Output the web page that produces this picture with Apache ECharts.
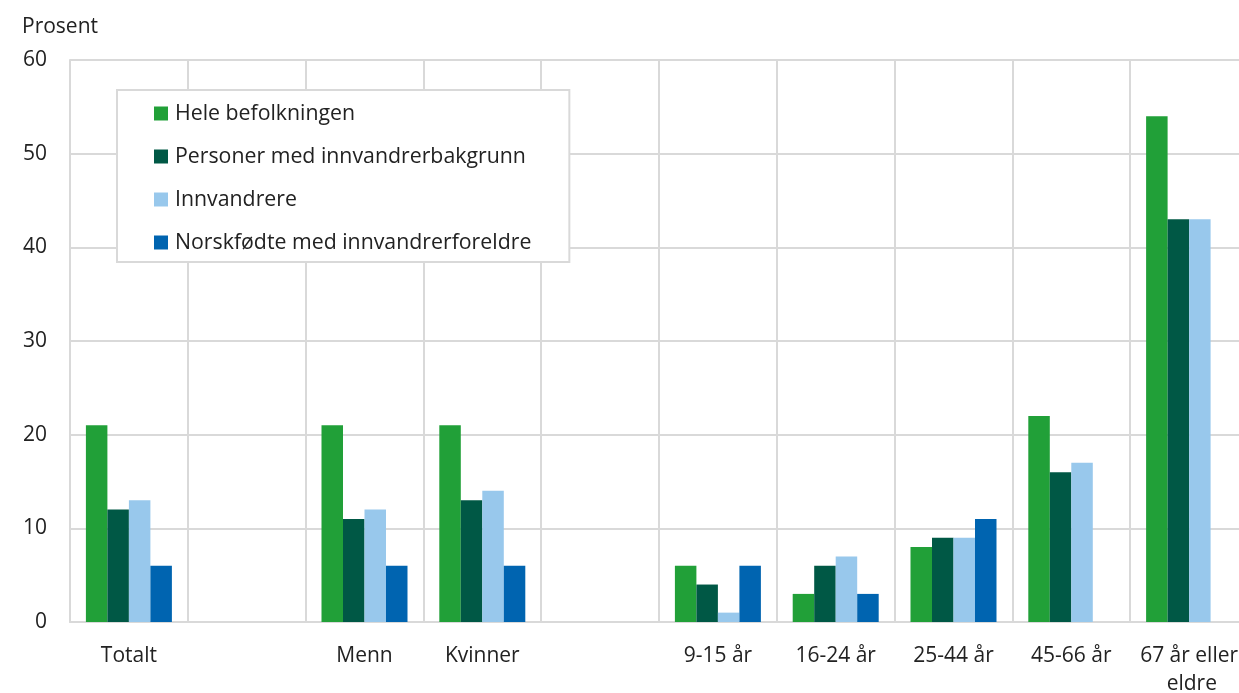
<!DOCTYPE html>
<html>
<head>
<meta charset="utf-8">
<script src="https://cdn.jsdelivr.net/npm/echarts@6/dist/echarts.min.js"></script>
<style>
html,body{margin:0;padding:0;background:#fff;}
#chart{width:1239px;height:693px;}
</style>
</head>
<body>
<div id="chart"></div>
<script>
const categories = ["Totalt", "", "Menn", "Kvinner", "", "9-15 år", "16-24 år", "25-44 år", "45-66 år", "67 år eller eldre"];
const seriesNames = ["Hele befolkningen", "Personer med innvandrerbakgrunn", "Innvandrere", "Norskfødte med innvandrerforeldre"];
const heleBefolkningen = [21, null, 21, 21, null, 6, 3, 8, 22, 54];
const innvandrerbakgrunn = [12, null, 11, 13, null, 4, 6, 9, 16, 43];
const innvandrere = [13, null, 12, 14, null, 1, 7, 9, 17, 43];
const norskfodte = [6, null, 6, 6, null, 6, 3, 11, null, null];
const yTicks = [0, 10, 20, 30, 40, 50, 60];

const colors = ["#21a038", "#005845", "#98c8ec", "#0064b0"];
const font = "'Open Sans', 'Noto Sans', sans-serif";
const dataSets = [heleBefolkningen, innvandrerbakgrunn, innvandrere, norskfodte];

const chart = echarts.init(document.getElementById('chart'), null, {renderer: 'canvas'});
chart.setOption({
  animation: false,
  textStyle: {fontFamily: font},
  title: {
    text: "Prosent",
    left: 17, top: 12,
    textStyle: {fontFamily: font, fontSize: 21, fontWeight: 'normal', color: '#222'}
  },
  legend: {
    orient: 'vertical',
    left: 117, top: 90,
    backgroundColor: '#fff',
    borderColor: '#d9d9d9',
    borderWidth: 2,
    padding: [13, 38, 9, 37],
    itemWidth: 14, itemHeight: 14,
    itemGap: 22,
    icon: 'rect',
    textStyle: {fontFamily: font, fontSize: 21.3, color: '#222', padding: [0, 0, 0, 2]},
    data: seriesNames
  },
  grid: {left: 70, top: 60, width: 1178, height: 562, containLabel: false, outerBoundsMode: 'none'},
  xAxis: {
    type: 'category',
    data: categories,
    axisLine: {show: true, lineStyle: {color: '#d9d9d9', width: 2}},
    axisTick: {show: false},
    splitLine: {show: true, interval: 0, lineStyle: {color: '#d9d9d9', width: 2}},
    axisLabel: {
      interval: 0, fontFamily: font, fontSize: 21, color: '#222',
      margin: 20, width: 110, overflow: 'break', lineHeight: 28
    }
  },
  yAxis: {
    type: 'value',
    min: 0, max: 60, interval: 10,
    axisLine: {show: true, lineStyle: {color: '#d9d9d9', width: 2}},
    axisTick: {show: false},
    splitLine: {show: true, lineStyle: {color: '#d9d9d9', width: 2}},
    axisLabel: {fontFamily: font, fontSize: 21, color: '#222', margin: 23,
      formatter: v => yTicks.includes(v) ? String(v) : ''}
  },
  series: seriesNames.map((name, i) => ({
    name: name,
    type: 'bar',
    data: dataSets[i],
    barGap: '0%',
    barCategoryGap: '27%',
    itemStyle: {color: colors[i]}
  }))
});
</script>
</body>
</html>
